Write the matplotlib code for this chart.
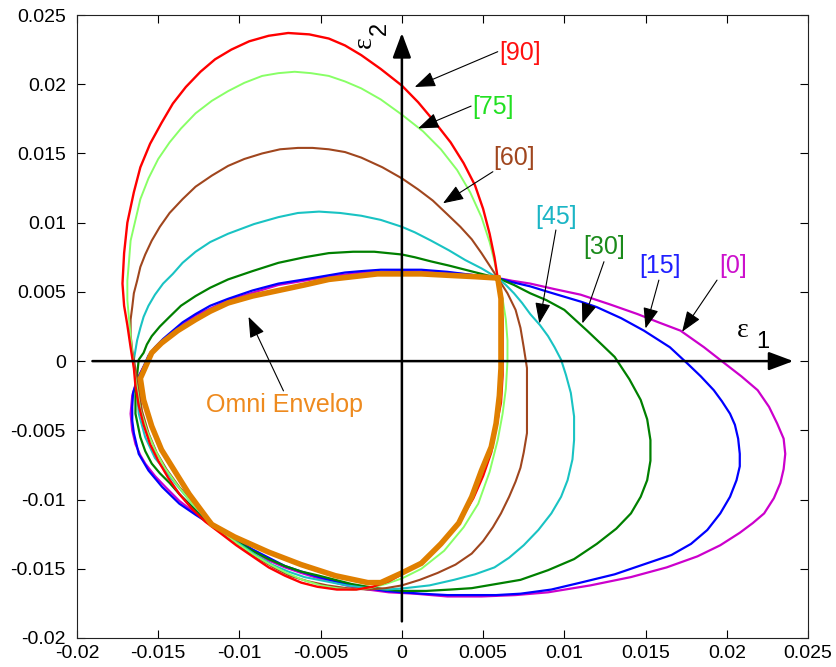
import matplotlib
matplotlib.use("Agg")
import matplotlib.pyplot as plt

# ---------------- data ----------------
xticks = [-0.02, -0.015, -0.01, -0.005, 0, 0.005, 0.01, 0.015, 0.02, 0.025]
xticklabels = ["-0.02", "-0.015", "-0.01", "-0.005", "0", "0.005", "0.01", "0.015", "0.02", "0.025"]
yticks = [-0.02, -0.015, -0.01, -0.005, 0, 0.005, 0.01, 0.015, 0.02, 0.025]
yticklabels = ["-0.02", "-0.015", "-0.01", "-0.005", "0", "0.005", "0.01", "0.015", "0.02", "0.025"]

# [0] magenta
pts0 = [(0.0059, 0.0060), (0.0045, 0.0062), (0.0028, 0.0064), (0.0, 0.0065), (-0.0025, 0.0064),
        (-0.0045, 0.0061), (-0.0076, 0.0055), (-0.0107, 0.0044), (-0.0127, 0.0033), (-0.0141, 0.0021),
        (-0.0152, 0.0009), (-0.0159, -0.0004), (-0.0163, -0.0013), (-0.0166, -0.0025), (-0.0167, -0.0038),
        (-0.0166, -0.0050), (-0.0164, -0.0060), (-0.0161, -0.0068), (-0.0158, -0.0074), (-0.0152, -0.0083),
        (-0.01455, -0.0091), (-0.0137, -0.0101), (-0.0127, -0.0110), (-0.0119, -0.0116), (-0.0111, -0.0122),
        (-0.0103, -0.0129), (-0.0092, -0.0137), (-0.0082, -0.0144), (-0.0072, -0.0149), (-0.0062, -0.0153),
        (-0.0051, -0.0157), (-0.0041, -0.0160), (-0.0031, -0.0163), (-0.0021, -0.0165), (-0.0008, -0.0167),
        (0.0008, -0.0168), (0.0028, -0.0170), (0.0049, -0.0170), (0.0070, -0.0169), (0.0090, -0.0167),
        (0.0116, -0.0162), (0.0141, -0.0156), (0.0163, -0.0149), (0.0182, -0.0141), (0.0196, -0.0133),
        (0.0208, -0.0124), (0.0216, -0.0117), (0.0223, -0.0110), (0.0229, -0.0099), (0.0233, -0.0088),
        (0.0235, -0.0078), (0.0236, -0.0067), (0.0235, -0.0056), (0.0231, -0.0045), (0.0226, -0.0033),
        (0.0219, -0.0021), (0.0209, -0.0011), (0.0198, -0.0001), (0.0186, 0.0010), (0.01715, 0.0022),
        (0.0158, 0.0028), (0.0145, 0.0034), (0.0128, 0.0041), (0.0110, 0.0048), (0.0094, 0.0052),
        (0.0079, 0.0056), (0.0068, 0.0058), (0.0059, 0.0060)]

# [15] blue
pts15 = [(0.0059, 0.0060), (0.0045, 0.0062), (0.0028, 0.00645), (0.0012, 0.0066), (0.0, 0.0066),
         (-0.0013, 0.0066), (-0.0025, 0.0065), (-0.0035, 0.0064), (-0.0045, 0.0062), (-0.0060, 0.0059),
         (-0.0076, 0.0056), (-0.0092, 0.0051), (-0.0107, 0.0045), (-0.0118, 0.0040), (-0.0127, 0.0034),
         (-0.0135, 0.0028), (-0.0141, 0.0022), (-0.0147, 0.0016), (-0.0152, 0.0010), (-0.0156, 0.0004),
         (-0.0159, -0.0004), (-0.0161, -0.0009), (-0.0163, -0.0014), (-0.01655, -0.0023), (-0.0166, -0.0033),
         (-0.0166, -0.0043), (-0.0165, -0.0052), (-0.0162, -0.0067), (-0.0156, -0.0079), (-0.01475, -0.0091),
         (-0.0137, -0.0103), (-0.0127, -0.0111), (-0.0119, -0.0117), (-0.0111, -0.0122), (-0.0103, -0.0128),
         (-0.0092, -0.0136), (-0.0082, -0.0142), (-0.0072, -0.0148), (-0.0062, -0.0152), (-0.0051, -0.0156),
         (-0.0041, -0.0159), (-0.0031, -0.0162), (-0.0021, -0.0164), (-0.0010, -0.0166), (0.0, -0.0167),
         (0.0012, -0.0168), (0.0028, -0.0169), (0.0043, -0.0169), (0.0058, -0.0169), (0.0073, -0.0168),
         (0.0092, -0.0165), (0.0110, -0.0160), (0.0131, -0.0154), (0.0151, -0.0146), (0.0166, -0.0140),
         (0.0178, -0.0132), (0.0188, -0.0122), (0.0196, -0.0110), (0.0202, -0.0098), (0.0206, -0.0086),
         (0.0208, -0.0076), (0.0208, -0.0067), (0.0207, -0.0056), (0.0205, -0.0046), (0.0202, -0.0038),
         (0.0197, -0.0029), (0.0192, -0.0021), (0.0184, -0.0011), (0.0176, -0.0002), (0.0165, 0.0010),
         (0.0157, 0.0016), (0.0149, 0.0022), (0.0135, 0.0031), (0.0120, 0.0039), (0.0110, 0.0043),
         (0.0100, 0.00465), (0.0090, 0.0050), (0.0079, 0.0054), (0.0068, 0.0057), (0.0059, 0.0060)]

# [30] dark green
pts30 = [(0.0059, 0.0060), (0.0049, 0.0063), (0.0039, 0.0066), (0.0029, 0.0069), (0.0018, 0.0072),
         (0.0008, 0.0075), (0.0, 0.0077), (-0.0017, 0.0079), (-0.0030, 0.0079), (-0.0045, 0.0078),
         (-0.0060, 0.0075), (-0.0076, 0.0071), (-0.0092, 0.0065), (-0.0107, 0.0059), (-0.0118, 0.0053),
         (-0.0127, 0.0047), (-0.0136, 0.0040), (-0.0143, 0.0032), (-0.0149, 0.0025), (-0.0154, 0.0018),
         (-0.0157, 0.0012), (-0.0159, 0.0006), (-0.0162, 0.0001), (-0.0163, -0.0010), (-0.0164, -0.0021),
         (-0.0164, -0.0038), (-0.0161, -0.0055), (-0.0158, -0.0065), (-0.0154, -0.0074), (-0.0149, -0.0081),
         (-0.0143, -0.0088), (-0.0137, -0.0096), (-0.0131, -0.0103), (-0.0123, -0.0112), (-0.0117, -0.0118),
         (-0.0110, -0.0123), (-0.0103, -0.0129), (-0.0092, -0.0137), (-0.0082, -0.0143), (-0.0072, -0.0148),
         (-0.0062, -0.0152), (-0.0051, -0.0155), (-0.0041, -0.0158), (-0.0031, -0.0161), (-0.0021, -0.0163),
         (-0.0010, -0.0165), (0.0, -0.0166), (0.0015, -0.0166), (0.0030, -0.0165), (0.0043, -0.0164),
         (0.0058, -0.0161), (0.0073, -0.0158), (0.0090, -0.0151), (0.0106, -0.0143), (0.0120, -0.0132),
         (0.0132, -0.0121), (0.0141, -0.0110), (0.0147, -0.0098), (0.0151, -0.0086), (0.0153, -0.0072),
         (0.0153, -0.0057), (0.0151, -0.0042), (0.0147, -0.0028), (0.0140, -0.0013), (0.0131, 0.0003),
         (0.0123, 0.0012), (0.0114, 0.0022), (0.0100, 0.0037), (0.0089, 0.0044), (0.0079, 0.0049),
         (0.0069, 0.0055), (0.0059, 0.0060)]

# [45] cyan
pts45 = [(0.0059, 0.0060), (0.0049, 0.0067), (0.0039, 0.0073), (0.0029, 0.0080), (0.0018, 0.0087),
         (0.0008, 0.0093), (0.0, 0.0097), (-0.0013, 0.0102), (-0.0025, 0.0105), (-0.0038, 0.0107),
         (-0.0051, 0.0108), (-0.0064, 0.0107), (-0.0076, 0.0104), (-0.0091, 0.0099), (-0.0107, 0.0092),
         (-0.0118, 0.0086), (-0.0127, 0.0079), (-0.0135, 0.0071), (-0.0141, 0.0063), (-0.0147, 0.0056),
         (-0.0152, 0.0048), (-0.0156, 0.0040), (-0.0159, 0.0032), (-0.0161, 0.0024), (-0.0163, 0.0015),
         (-0.0164, 0.0008), (-0.0165, 0.0001), (-0.0164, -0.0010), (-0.0163, -0.0021), (-0.0162, -0.0038),
         (-0.0158, -0.0055), (-0.0152, -0.0070), (-0.0145, -0.0080), (-0.0139, -0.0089), (-0.0129, -0.0103),
         (-0.0119, -0.0116), (-0.0110, -0.0124), (-0.0100, -0.0132), (-0.0090, -0.0140), (-0.0080, -0.0147),
         (-0.0070, -0.0152), (-0.0060, -0.0156), (-0.0047, -0.0159), (-0.0034, -0.0162), (-0.0021, -0.0164),
         (-0.0009, -0.0165), (0.0002, -0.0164), (0.0017, -0.0162), (0.0032, -0.0158), (0.0045, -0.0154),
         (0.0057, -0.0149), (0.0066, -0.0142), (0.0075, -0.0133), (0.0084, -0.0122), (0.0092, -0.0110),
         (0.0098, -0.0098), (0.0102, -0.0086), (0.0105, -0.0071), (0.0106, -0.0057), (0.0106, -0.0040),
         (0.0104, -0.0023), (0.0101, -0.0010), (0.0098, 0.0001), (0.0094, 0.0010), (0.0090, 0.0018),
         (0.0085, 0.0026), (0.0079, 0.0034), (0.0074, 0.0042), (0.0069, 0.0049), (0.0064, 0.0055),
         (0.0059, 0.0060)]

# [60] brown
pts60 = [(0.0059, 0.0060), (0.0054, 0.0069), (0.0049, 0.0078), (0.0043, 0.0088), (0.0036, 0.0097),
         (0.0028, 0.0106), (0.0019, 0.0116), (0.0010, 0.0124), (0.0, 0.0132), (-0.0012, 0.0140),
         (-0.0025, 0.0147), (-0.0035, 0.0151), (-0.0045, 0.0153), (-0.0055, 0.0154), (-0.0064, 0.0154),
         (-0.0075, 0.0153), (-0.0086, 0.0150), (-0.0097, 0.0146), (-0.0107, 0.0141), (-0.0117, 0.0134),
         (-0.0127, 0.0126), (-0.0135, 0.0117), (-0.0143, 0.0107), (-0.0149, 0.0097), (-0.0154, 0.0087),
         (-0.0158, 0.0077), (-0.0161, 0.0068), (-0.0163, 0.0058), (-0.0165, 0.0049), (-0.0166, 0.0039),
         (-0.0167, 0.0030), (-0.0167, 0.0019), (-0.0166, 0.0008), (-0.0164, -0.0006), (-0.0162, -0.0020),
         (-0.0160, -0.0036), (-0.0156, -0.0052), (-0.0151, -0.0066), (-0.0145, -0.0078), (-0.0137, -0.0091),
         (-0.0127, -0.0104), (-0.0118, -0.0116), (-0.0109, -0.0125), (-0.0099, -0.0134), (-0.0089, -0.0142),
         (-0.0079, -0.0149), (-0.0069, -0.0155), (-0.0058, -0.0159), (-0.0046, -0.0162), (-0.0034, -0.0164),
         (-0.0021, -0.0165), (-0.0010, -0.0164), (0.0, -0.0162), (0.0011, -0.0158), (0.0022, -0.0153),
         (0.0033, -0.0147), (0.0043, -0.0139), (0.0050, -0.0130), (0.0056, -0.0120), (0.0061, -0.0110),
         (0.0066, -0.0098), (0.0070, -0.0087), (0.0073, -0.0077), (0.0075, -0.0066), (0.0077, -0.0052),
         (0.0077, -0.0035), (0.0077, -0.0020), (0.0077, -0.0005), (0.0075, 0.0010), (0.0073, 0.0024),
         (0.0070, 0.0037), (0.0065, 0.0049), (0.0059, 0.0060)]

# [75] light green
pts75 = [(0.0059, 0.0060), (0.0057, 0.0072), (0.0054, 0.0086), (0.0049, 0.0104), (0.0042, 0.0122),
         (0.0034, 0.0138), (0.0024, 0.0153), (0.0013, 0.0166), (0.0, 0.0178), (-0.0013, 0.0189),
         (-0.0025, 0.0197), (-0.0035, 0.0202), (-0.0045, 0.0206), (-0.0056, 0.0208), (-0.0066, 0.0209),
         (-0.0076, 0.0208), (-0.0086, 0.0206), (-0.0097, 0.0201), (-0.0107, 0.0195), (-0.0117, 0.0188),
         (-0.0127, 0.0179), (-0.0136, 0.0168), (-0.0143, 0.0158), (-0.0150, 0.0146), (-0.0156, 0.0132),
         (-0.0161, 0.0117), (-0.0164, 0.0102), (-0.0167, 0.0087), (-0.0168, 0.0072), (-0.0169, 0.0058),
         (-0.0169, 0.0044), (-0.0168, 0.0031), (-0.0167, 0.0018), (-0.0166, 0.0006), (-0.0165, -0.0005),
         (-0.0163, -0.0020), (-0.0161, -0.0035), (-0.0157, -0.0050), (-0.0152, -0.0064), (-0.0146, -0.0077),
         (-0.0138, -0.0090), (-0.0129, -0.0103), (-0.0120, -0.0114), (-0.0111, -0.0123), (-0.0101, -0.0132),
         (-0.0091, -0.0140), (-0.0081, -0.0147), (-0.0071, -0.0153), (-0.0061, -0.0158), (-0.0050, -0.0162),
         (-0.0040, -0.0164), (-0.0030, -0.0165), (-0.0020, -0.0164), (-0.0010, -0.0161), (0.0, -0.0157),
         (0.0012, -0.0150), (0.0026, -0.0137), (0.0038, -0.0120), (0.0047, -0.0103), (0.0054, -0.0080),
         (0.0059, -0.0057), (0.0062, -0.0038), (0.0064, -0.0020), (0.0065, 0.0000), (0.0065, 0.0015),
         (0.0064, 0.0030), (0.0062, 0.0045), (0.0059, 0.0060)]

# [90] red
pts90 = [(0.0059, 0.0060), (0.0057, 0.0075), (0.0054, 0.0092), (0.0050, 0.0110), (0.0045, 0.0127),
         (0.0038, 0.0143), (0.0030, 0.0158), (0.0020, 0.0173), (0.0010, 0.0187), (0.0, 0.0199),
         (-0.0013, 0.0211), (-0.0025, 0.0221), (-0.0035, 0.0228), (-0.0045, 0.0233), (-0.0057, 0.0236),
         (-0.0070, 0.0237), (-0.0082, 0.0235), (-0.0094, 0.0231), (-0.0105, 0.0225), (-0.0115, 0.0218),
         (-0.0124, 0.0209), (-0.0133, 0.0198), (-0.0141, 0.0186), (-0.0148, 0.0172), (-0.0155, 0.0157),
         (-0.0161, 0.0140), (-0.0165, 0.0122), (-0.0169, 0.0100), (-0.0171, 0.0078), (-0.0172, 0.0056),
         (-0.0171, 0.0040), (-0.0169, 0.0026), (-0.0167, 0.0010), (-0.0165, -0.0005), (-0.0164, -0.0018),
         (-0.0162, -0.0032), (-0.0159, -0.0046), (-0.0155, -0.0060), (-0.0150, -0.0072), (-0.0144, -0.0084),
         (-0.0137, -0.0096), (-0.0129, -0.0107), (-0.0121, -0.0116), (-0.0112, -0.0124), (-0.0102, -0.0133),
         (-0.0092, -0.0141), (-0.0082, -0.0149), (-0.0072, -0.0155), (-0.0062, -0.0160), (-0.0052, -0.0163),
         (-0.0040, -0.0165), (-0.0028, -0.0165), (-0.0018, -0.0163), (-0.0008, -0.0159), (0.0, -0.0154),
         (0.0010, -0.0147), (0.0020, -0.0137), (0.0029, -0.0126), (0.0037, -0.0113), (0.0044, -0.0099),
         (0.0050, -0.0083), (0.0055, -0.0066), (0.0058, -0.0048), (0.0061, -0.0030), (0.0062, -0.0010),
         (0.0062, 0.0010), (0.0062, 0.0030), (0.0061, 0.0045), (0.0059, 0.0060)]

# Omni envelope
pts_env = [(0.0059, 0.0060), (0.0045, 0.0061), (0.0028, 0.0062), (0.0012, 0.0063), (0.0, 0.0063),
           (-0.0015, 0.0063), (-0.0030, 0.0061), (-0.0045, 0.0059), (-0.0060, 0.0055), (-0.0076, 0.0051),
           (-0.0092, 0.0047), (-0.0107, 0.0042), (-0.0118, 0.0036), (-0.0127, 0.0030), (-0.0138, 0.0022),
           (-0.0148, 0.0013), (-0.0154, 0.0006), (-0.0161, -0.00125), (-0.0159, -0.0028), (-0.0154, -0.0047),
           (-0.0148, -0.0064), (-0.0139, -0.0081), (-0.0131, -0.0096), (-0.0119, -0.0115), (-0.0117, -0.0118),
           (-0.0103, -0.0127), (-0.0082, -0.0138), (-0.0062, -0.0147), (-0.0041, -0.0155), (-0.0021, -0.0160),
           (-0.0013, -0.0160), (0.0, -0.0153), (0.0012, -0.0146), (0.0024, -0.0132), (0.0035, -0.0117),
           (0.0043, -0.0098), (0.0049, -0.0079), (0.0055, -0.0062), (0.0058, -0.0045), (0.0060, -0.0025),
           (0.0061, -0.0005), (0.0061, 0.0015), (0.0061, 0.0045), (0.0059, 0.0060)]

series_names = ["[0]", "[15]", "[30]", "[45]", "[60]", "[75]", "[90]"]
series_pts = [pts0, pts15, pts30, pts45, pts60, pts75, pts90]
line_colors = ["#CC00CC", "#0000FF", "#008000", "#19C3C3", "#A0461E", "#88FF66", "#FF0000"]
label_colors = ["#CC10CC", "#2020FF", "#1A8A1A", "#1BB5C5", "#A0461E", "#22E022", "#FF1010"]
line_widths = [1.6, 1.6, 1.6, 1.5, 1.5, 1.4, 1.7]

# annotation geometry: (text pos, arrow tail, arrow tip)
label_text_pos = [(0.02042, 0.00686), (0.01588, 0.00689), (0.01248, 0.00826), (0.00948, 0.01043),
                  (0.00692, 0.01465), (0.00563, 0.01833), (0.00727, 0.02223)]
arrow_tail = [(0.0194, 0.00585), (0.01582, 0.00585), (0.01244, 0.00718), (0.00948, 0.00947),
              (0.0056, 0.01368), (0.00426, 0.01842), (0.0059, 0.02235)]
arrow_tip = [(0.01725, 0.00212), (0.0150, 0.00236), (0.01111, 0.00272), (0.00846, 0.00272),
             (0.00253, 0.0114), (0.0010, 0.01681), (0.00079, 0.0198)]

# ---------------- figure ----------------
plt.rcParams['font.family'] = ['Liberation Sans', 'DejaVu Sans']
fig = plt.figure(figsize=(8.37, 6.67), dpi=100)
ax = fig.add_axes([77 / 837, 29 / 667, 731 / 837, 623 / 667])

for pts, c, lw in zip(series_pts, line_colors, line_widths):
    xs = [p[0] for p in pts]
    ys = [p[1] for p in pts]
    ax.plot(xs, ys, color=c, lw=lw, solid_joinstyle='round', zorder=3)
ax.plot([p[0] for p in pts_env], [p[1] for p in pts_env], color="#E07F00", lw=4.0,
        solid_joinstyle='miter', zorder=4)

# coordinate axes with arrows
axis_arrow = dict(arrowstyle="-|>,head_length=0.75,head_width=0.28", color="black", lw=1.8,
                  shrinkA=0, shrinkB=0, mutation_scale=20)
ax.annotate("", xy=(0.0241, 0), xytext=(-0.01905, 0), arrowprops=axis_arrow, zorder=5)
ax.annotate("", xy=(0, 0.0237), xytext=(0, -0.0188), arrowprops=axis_arrow, zorder=5)

ax.text(0.0210, 0.00224, "ε", family=['Liberation Serif', 'DejaVu Serif'], fontsize=20,
        ha='center', va='center', color='black')
ax.text(0.02224, 0.00137, "1", fontsize=17, ha='center', va='center', color='black')
ax.text(-0.0023, 0.02305, "ε", family=['Liberation Serif', 'DejaVu Serif'], fontsize=20,
        ha='center', va='center', rotation=90, color='black')
ax.text(-0.00138, 0.02406, "2", fontsize=17, ha='center', va='center', rotation=90, color='black')

# labels with arrows
small_arrow = dict(arrowstyle="-|>,head_length=0.8,head_width=0.3", color="black", lw=0.8,
                   shrinkA=0, shrinkB=0, mutation_scale=16)
for name, c, tp, tl, tip in zip(series_names, label_colors, label_text_pos, arrow_tail, arrow_tip):
    ax.text(tp[0], tp[1], name, color=c, fontsize=18, ha='center', va='center', zorder=6)
    ax.annotate("", xy=tip, xytext=tl, arrowprops=small_arrow, zorder=6)

ax.text(-0.00721, -0.00318, "Omni Envelop", color="#EE8A1E", fontsize=18, ha='center', va='center', zorder=6)
ax.annotate("", xy=(-0.00944, 0.0032), xytext=(-0.00729, -0.00215), arrowprops=small_arrow, zorder=6)

ax.set_xlim(-0.02, 0.025)
ax.set_ylim(-0.02, 0.025)
ax.set_xticks(xticks)
ax.set_xticklabels(xticklabels)
ax.set_yticks(yticks)
ax.set_yticklabels(yticklabels)
ax.tick_params(direction='in', length=6, width=0.8, top=True, right=True, labelsize=14, pad=5)
ax.tick_params(axis='y', pad=8)
for s in ax.spines.values():
    s.set_linewidth(0.8)
    s.set_color('#222222')

fig.savefig("out.png", dpi=100)
